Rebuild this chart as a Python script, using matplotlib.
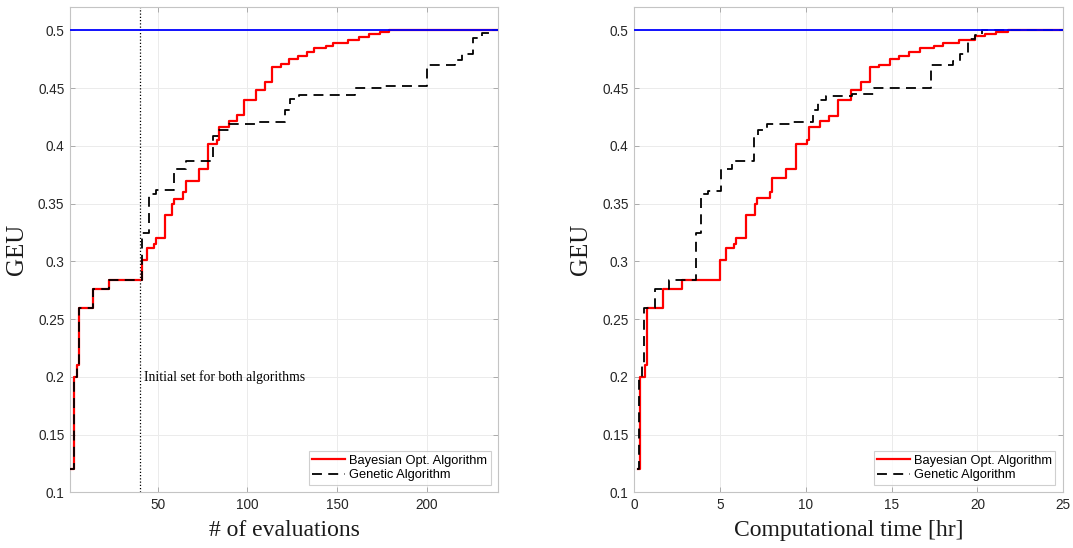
import matplotlib
matplotlib.use("Agg")
import matplotlib.pyplot as plt

# ---------------- data ----------------
# Left panel: GEU vs number of evaluations
eval_bo_x = [1, 3, 5, 6, 14, 23, 41, 44, 48, 49, 54, 58, 59, 64, 66, 73, 78, 83, 84,
             90, 94, 98, 105, 110, 114, 119, 123, 128, 133, 137, 144, 148, 156, 162,
             168, 174, 179, 240]
eval_bo_y = [0.12, 0.20, 0.21, 0.26, 0.276, 0.284, 0.301, 0.312, 0.315, 0.320, 0.340,
             0.350, 0.354, 0.360, 0.370, 0.380, 0.402, 0.405, 0.4165, 0.422, 0.4266,
             0.440, 0.448, 0.455, 0.468, 0.4706, 0.475, 0.478, 0.481, 0.485, 0.4865,
             0.489, 0.492, 0.494, 0.497, 0.499, 0.5, 0.5]
eval_ga_x = [1, 3, 5, 6, 14, 23, 41, 45, 49, 59, 66, 81, 84, 90, 106, 121, 124, 129,
             160, 175, 200, 216, 220, 226, 231, 235, 240]
eval_ga_y = [0.12, 0.20, 0.21, 0.26, 0.276, 0.284, 0.325, 0.358, 0.362, 0.380, 0.387,
             0.409, 0.4136, 0.419, 0.421, 0.431, 0.441, 0.4438, 0.450, 0.452, 0.4703,
             0.474, 0.480, 0.4934, 0.498, 0.5, 0.5]

# Right panel: GEU vs computational time [hr]
time_bo_x = [0.19, 0.35, 0.64, 0.74, 1.7, 2.81, 4.98, 5.33, 5.81, 5.95, 6.53, 7.03,
             7.13, 7.89, 8.04, 8.82, 9.44, 10.08, 10.2, 10.85, 11.34, 11.86, 12.66,
             13.24, 13.76, 14.24, 14.88, 15.4, 15.99, 16.67, 17.44, 18.02, 18.93,
             19.86, 20.45, 21.1, 21.8, 25]
time_bo_y = [0.12, 0.20, 0.21, 0.26, 0.276, 0.284, 0.301, 0.312, 0.315, 0.320, 0.340,
             0.350, 0.355, 0.360, 0.372, 0.380, 0.402, 0.405, 0.4165, 0.4217, 0.426,
             0.440, 0.448, 0.455, 0.468, 0.470, 0.475, 0.478, 0.481, 0.485, 0.4865,
             0.489, 0.492, 0.495, 0.4965, 0.4986, 0.5, 0.5]
time_ga_x = [0.16, 0.29, 0.48, 0.58, 1.22, 2.0, 3.57, 3.88, 4.3, 5.08, 5.72, 6.98,
             7.23, 7.75, 9.1, 10.43, 10.7, 11.2, 12.7, 13.95, 17.3, 18.6, 19.0,
             19.44, 19.86, 20.25, 25]
time_ga_y = [0.12, 0.20, 0.21, 0.26, 0.276, 0.284, 0.325, 0.358, 0.361, 0.380, 0.387,
             0.409, 0.4136, 0.419, 0.421, 0.431, 0.440, 0.443, 0.445, 0.450, 0.470,
             0.4735, 0.480, 0.493, 0.4963, 0.5, 0.5]

target_geu = 0.5
initial_set = 40

y_ticks = [0.1, 0.15, 0.2, 0.25, 0.3, 0.35, 0.4, 0.45, 0.5]
y_tick_labels = ["0.1", "0.15", "0.2", "0.25", "0.3", "0.35", "0.4", "0.45", "0.5"]
eval_ticks = [50, 100, 150, 200]
time_ticks = [0, 5, 10, 15, 20, 25]

labels = ["Bayesian Opt. Algorithm", "Genetic Algorithm"]

# ---------------- figure ----------------
fig = plt.figure(figsize=(10.73, 5.48), dpi=100)
ax1 = fig.add_axes([0.0652, 0.1016, 0.3992, 0.885])
ax2 = fig.add_axes([0.5911, 0.1016, 0.3998, 0.885])

sans = "Liberation Sans"
serif = "Liberation Serif"
frame_col = "#c4c4c4"
tick_txt = "#262626"


def style(ax, xlim, xticks, xlabel):
    ax.set_xlim(*xlim)
    ax.set_ylim(0.1, 0.52)
    ax.set_xticks(xticks)
    ax.set_xticklabels([str(t) for t in xticks])
    ax.set_yticks(y_ticks)
    ax.set_yticklabels(y_tick_labels)
    ax.grid(True, color="#ebebeb", linewidth=0.7)
    ax.set_axisbelow(True)
    for sp in ax.spines.values():
        sp.set_color(frame_col)
        sp.set_linewidth(0.8)
    ax.tick_params(direction="in", length=3.5, width=0.6, color="#a0a0a0",
                   top=True, right=True, labelcolor=tick_txt, labelsize=9.8, pad=4)
    for lab in ax.get_xticklabels() + ax.get_yticklabels():
        lab.set_fontfamily(sans)
    ax.set_xlabel(xlabel, fontfamily=serif, fontsize=17, labelpad=6, color="#1a1a1a")
    ax.set_ylabel("GEU", fontfamily=serif, fontsize=18, labelpad=7, color="#1a1a1a")


for ax, bx, by, gx, gy in [(ax1, eval_bo_x, eval_bo_y, eval_ga_x, eval_ga_y),
                           (ax2, time_bo_x, time_bo_y, time_ga_x, time_ga_y)]:
    ax.plot(bx, by, drawstyle="steps-post", color="#ff0000", linewidth=1.6,
            label=labels[0], zorder=3)
    ax.plot(gx, gy, drawstyle="steps-post", color="black", linewidth=1.3,
            linestyle=(0, (5.5, 3.5)), label=labels[1], zorder=4)
    ax.axhline(target_geu, color="#0000ff", linewidth=1.3, zorder=5)

ax1.axvline(initial_set, color="black", linestyle=(0, (1, 1.6)), linewidth=0.9, zorder=2)
ax1.text(initial_set + 2.2, 0.2, "Initial set for both algorithms",
         fontfamily=serif, fontsize=9.8, va="center", ha="left", color="black")

style(ax1, (1, 240), eval_ticks, "# of evaluations")
style(ax2, (0, 25), time_ticks, "Computational time [hr]")

for ax in (ax1, ax2):
    leg = ax.legend(loc="lower right", prop={"family": sans, "size": 9.3},
                    frameon=True, fancybox=False, edgecolor=frame_col,
                    handlelength=2.6, handletextpad=0.3, borderpad=0.25,
                    labelspacing=0.2, borderaxespad=0.6)
    leg.get_frame().set_linewidth(0.8)

fig.savefig("out.png", dpi=100)
